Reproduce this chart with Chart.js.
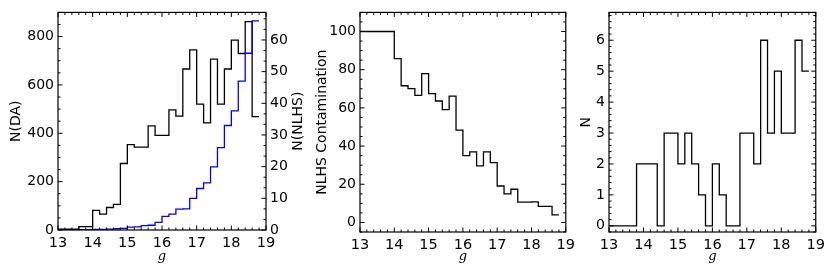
<!DOCTYPE html>
<html><head><meta charset="utf-8">
<script src="https://cdn.jsdelivr.net/npm/chart.js@4/dist/chart.umd.min.js"></script>
<style>
html,body{margin:0;padding:0;background:#fff;}
#wrap{position:relative;width:830px;height:270px;overflow:hidden;background:#fff;}
.pane{position:absolute;top:0;height:270px;}
canvas{display:block;}
</style></head><body>
<div id="wrap">
<div class="pane" style="left:0;width:330px"><canvas id="c1" width="330" height="270"></canvas></div>
<div class="pane" style="left:305px;width:275px"><canvas id="c2" width="275" height="270"></canvas></div>
<div class="pane" style="left:578px;width:252px"><canvas id="c3" width="252" height="270"></canvas></div>
</div>
<script>
// ---- data (bin left edges in g, last bin closes at gLastEdge) ----
const gBinEdges = [13.0,13.2,13.4,13.6,13.8,14.0,14.2,14.4,14.6,14.8,15.0,15.2,15.4,15.6,15.8,16.0,16.2,16.4,16.6,16.8,17.0,17.2,17.4,17.6,17.8,18.0,18.2,18.4,18.6];
const gLastEdge = 18.8;
const nDA = [3,3,3,14,14,81,66,93,106,275,353,343,343,431,391,391,497,471,666,745,521,443,707,521,666,785,730,862,469];
const nNLHS = [0,0,0,0.1,0.1,0.2,0.2,0.3,0.4,0.5,0.9,1.0,1.4,1.5,2.4,4.3,5.0,6.6,6.7,10.0,13.1,14.9,19.9,26.0,33.0,37.6,47.0,55.8,66.0];
const nlhsContamination = [100,100,100,100,100,85.8,71.6,70.1,66.6,77.9,67.5,63.6,59.1,66.2,48.4,35.0,37.0,29.6,37.0,31.3,19.1,15.0,17.4,10.6,10.6,10.8,8.4,8.4,4.0];
const nCounts = [0,0,0,0,2,2,2,0,3,3,2,3,2,1,0,2,1,0,0,3,3,2,6,3,5,3,3,6,5];
// ---- tick labels ----
const gTicks = [13,14,15,16,17,18,19];
const nDATicks = [0,200,400,600,800];
const nNLHSTicks = [0,10,20,30,40,50,60];
const contamTicks = [0,20,40,60,80,100];
const nTicks = [0,1,2,3,4,5,6];

function stepPoints(vals){
  const pts = gBinEdges.map((x,i)=>({x:x, y:vals[i]}));
  pts.push({x:gLastEdge, y:vals[vals.length-1]});
  return pts;
}
function fixedTicks(arr){ return s => { s.ticks = arr.map(v=>({value:v})); }; }

Chart.defaults.font.family = "'DejaVu Sans', sans-serif";
Chart.defaults.font.size = 14;
Chart.defaults.color = '#000';
Chart.defaults.animation = false;

const frameTicks = {
  id: 'frameTicks',
  afterDatasetsDraw(chart, args, opts) {
    const {ctx, chartArea: a, scales} = chart;
    ctx.save();
    ctx.strokeStyle = '#000';
    ctx.lineWidth = 1;
    (opts.axes || []).forEach(ax => {
      const s = scales[ax.id];
      const majors = s.ticks.map(t => t.value);
      const minors = [];
      if (ax.minor) {
        const k0 = Math.ceil(s.min / ax.minor - 1e-6);
        for (let k = k0; k * ax.minor <= s.max + 1e-6; k++) {
          const v = k * ax.minor;
          if (!majors.some(m => Math.abs(m - v) < 1e-6)) minors.push(v);
        }
      }
      const draw = (v, len) => {
        const p = s.getPixelForValue(v);
        ax.sides.forEach(side => {
          ctx.beginPath();
          if (side === 'bottom') { ctx.moveTo(p, a.bottom); ctx.lineTo(p, a.bottom - len); }
          else if (side === 'top') { ctx.moveTo(p, a.top); ctx.lineTo(p, a.top + len); }
          else if (side === 'left') { ctx.moveTo(a.left, p); ctx.lineTo(a.left + len, p); }
          else { ctx.moveTo(a.right, p); ctx.lineTo(a.right - len, p); }
          ctx.stroke();
        });
      };
      majors.forEach(v => draw(v, 4.5));
      minors.forEach(v => draw(v, 2.5));
    });
    ctx.lineWidth = 1.2;
    ctx.strokeRect(a.left, a.top, a.right - a.left, a.bottom - a.top);
    (opts.sideTitles || []).forEach(t => {
      const s = scales[t.id];
      const tt = s.options.title;
      ctx.save();
      ctx.fillStyle = '#000';
      ctx.font = "14px 'DejaVu Sans', sans-serif";
      ctx.textAlign = 'center';
      ctx.textBaseline = 'middle';
      ctx.translate(a.right + t.dx, (a.top + a.bottom) / 2);
      ctx.rotate(-Math.PI / 2);
      ctx.fillText(tt.text, 0, 0);
      ctx.restore();
    });
    ctx.restore();
  }
};

const gTitleFont = {family: "'DejaVu Serif', serif", style: 'italic', size: 13};

function xScale(h) {
  return {
    type: 'linear', min: 13, max: 19,
    afterBuildTicks: fixedTicks(gTicks),
    afterFit: s => { s.height = h; },
    grid: {display: false, drawTicks: false}, border: {display: false},
    ticks: {padding: 5, maxRotation: 0, autoSkip: false, font: {size: 14.5}},
    title: {display: true, text: 'g', font: gTitleFont, padding: {top: 0, bottom: 6}}
  };
}
function yScale(pos, min, max, ticksArr, w, title, titlePad) {
  return {
    type: 'linear', position: pos, min: min, max: max,
    afterBuildTicks: fixedTicks(ticksArr),
    afterFit: s => { s.width = w; },
    grid: {display: false, drawTicks: false}, border: {display: false},
    ticks: {padding: 4, autoSkip: false},
    title: {display: titlePad !== null, text: title, font: {size: 14}, padding: {top: titlePad || 0, bottom: 0}}
  };
}
const lineDs = (label, data, color, axis) => ({
  label: label, data: data, borderColor: color, borderWidth: 1.3,
  stepped: 'before', pointRadius: 0, fill: false, tension: 0, yAxisID: axis,
  borderJoinStyle: 'miter', borderCapStyle: 'butt'
});
const common = (pad) => ({
  responsive: false, animation: false, events: [],
  layout: {padding: pad},
  plugins: {legend: {display: false}, tooltip: {enabled: false}}
});

// Left panel
const o1 = common({top: 12, right: 0, bottom: 0, left: 0});
o1.scales = {
  x: xScale(40),
  y: yScale('left', 0, 900, nDATicks, 58, 'N(DA)', 7.6),
  y2: yScale('right', 0, 68.7, nNLHSTicks, 64, 'N(NLHS)', null)
};
o1.plugins.frameTicks = {
  axes: [
    {id: 'x', minor: 0.2, sides: ['bottom', 'top']},
    {id: 'y', minor: 50, sides: ['left']},
    {id: 'y2', minor: 10/3, sides: ['right']}
  ],
  sideTitles: [{id: 'y2', dx: 32}]
};
new Chart(document.getElementById('c1'), {
  type: 'line',
  data: {datasets: [
    lineDs('N(NLHS)', stepPoints(nNLHS), '#0000ff', 'y2'),
    lineDs('N(DA)', stepPoints(nDA), '#000000', 'y')
  ]},
  options: o1, plugins: [frameTicks]
});

// Middle panel
const o2 = common({top: 12, right: 12, bottom: 0, left: 0});
o2.scales = {
  x: xScale(38),
  y: yScale('left', -5, 110, contamTicks, 55, 'NLHS Contamination', 8.6)
};
o2.plugins.frameTicks = {
  axes: [
    {id: 'x', minor: 0.2, sides: ['bottom', 'top']},
    {id: 'y', minor: 5, sides: ['left', 'right']}
  ]
};
new Chart(document.getElementById('c2'), {
  type: 'line',
  data: {datasets: [lineDs('NLHS Contamination', stepPoints(nlhsContamination), '#000000', 'y')]},
  options: o2, plugins: [frameTicks]
});

// Right panel
const o3 = common({top: 12, right: 13, bottom: 0, left: 0});
o3.scales = {
  x: xScale(38),
  y: yScale('left', -0.2, 6.9, nTicks, 31, 'N', 0)
};
o3.plugins.frameTicks = {
  axes: [
    {id: 'x', minor: 0.2, sides: ['bottom', 'top']},
    {id: 'y', minor: 0.2, sides: ['left', 'right']}
  ]
};
new Chart(document.getElementById('c3'), {
  type: 'line',
  data: {datasets: [lineDs('N', stepPoints(nCounts), '#000000', 'y')]},
  options: o3, plugins: [frameTicks]
});
</script>
</body></html>
